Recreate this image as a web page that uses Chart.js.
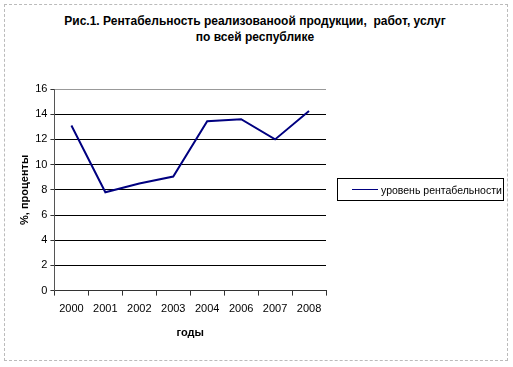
<!DOCTYPE html>
<html>
<head>
  <meta charset="utf-8">
  <script src="https://cdn.jsdelivr.net/npm/chart.js"></script>
  <style>
    body { margin: 0; background: #fff; font-family: "Liberation Sans", Arial, sans-serif; }
    .wrap { position: relative; width: 513px; height: 367px; }
    .frame { position: absolute; left: 4px; top: 4px; width: 502px; height: 355px; border: 1px dashed #bbb; }
    #myLineChart { position: absolute; left: 0; top: 0; }
    .title {
      position: absolute; left: 0; top: 13px; width: 510px; text-align: center;
      font-weight: bold; font-size: 12px; line-height: 16px; color: #000; white-space: pre;
    }
    .legend {
      position: absolute; left: 337px; top: 178px; width: 167px; height: 23px;
      border: 1px solid #000; box-sizing: border-box; white-space: nowrap;
      font-size: 10.5px; color: #000; display: flex; align-items: center;
    }
    .legend .swatch { display: inline-block; width: 26px; height: 0; border-top: 1px solid #000080; margin: 0 3px 0 14px; }
  </style>
</head>
<body>
<div class="wrap">
  <div class="frame"></div>
  <div class="title" id="chartTitle"></div>
  <canvas id="myLineChart" width="513" height="367"></canvas>
  <div class="legend"><span class="swatch"></span><span id="legendText"></span></div>
</div>
<script>
"use strict";
const years = ['2000', '2001', '2002', '2003', '2004', '2006', '2007', '2008'];
const profitability = [13.1, 7.8, 8.5, 9.05, 13.45, 13.6, 12.0, 14.25];
const yTicks = [0, 2, 4, 6, 8, 10, 12, 14, 16];
const seriesName = 'уровень рентабельности';
const titleLines = ['Рис.1. Рентабельность реализованоой продукции,  работ, услуг', 'по всей республике'];

document.getElementById('legendText').textContent = seriesName;
document.getElementById('chartTitle').textContent = titleLines.join('\n');

Chart.defaults.font.family = '"Liberation Sans", Arial, sans-serif';
Chart.defaults.color = '#000';

const ctx = document.getElementById('myLineChart');
new Chart(ctx, {
  type: 'line',
  data: {
    labels: years,
    datasets: [{
      label: seriesName,
      data: profitability,
      borderColor: '#000080',
      borderWidth: 2,
      pointRadius: 0,
      tension: 0,
      fill: false
    }]
  },
  options: {
    responsive: false,
    animation: false,
    devicePixelRatio: 1,
    layout: { padding: { left: 14, right: 187, top: 89, bottom: 23 } },
    plugins: {
      legend: { display: false },
      tooltip: { enabled: false }
    },
    scales: {
      x: {
        offset: true,
        grid: { offset: true, drawOnChartArea: false, drawTicks: true, tickLength: 5, color: '#333' },
        border: { color: '#333', width: 1 },
        ticks: { font: { size: 11 }, padding: 7, maxRotation: 0 },
        title: { display: true, text: 'годы', font: { size: 11, weight: 'bold' }, padding: { top: 4 } }
      },
      y: {
        min: 0,
        max: 16,
        afterBuildTicks: function(axis) { axis.ticks = yTicks.map(v => ({ value: v })); },
        grid: {
          color: c => (c.tick && c.tick.value === 16) ? '#999' : '#000',
          tickLength: 4,
          tickColor: '#333'
        },
        border: { color: '#555', width: 1 },
        ticks: { font: { size: 11 }, padding: 3 },
        title: { display: true, text: '%, проценты', font: { size: 11, weight: 'bold' }, padding: { top: 4, bottom: 1 } }
      }
    }
  }
});
</script>
</body>
</html>
